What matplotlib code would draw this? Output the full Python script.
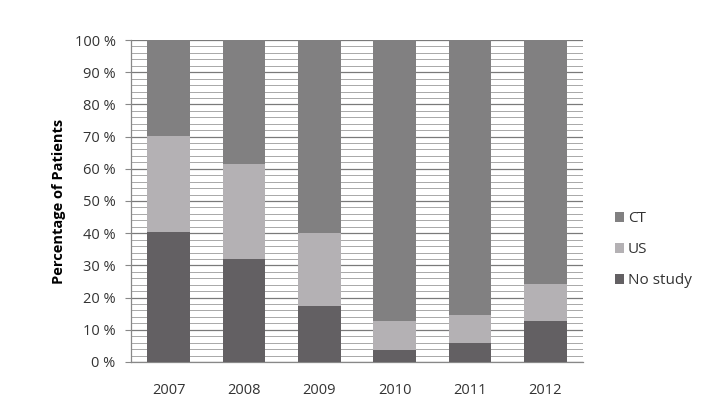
import matplotlib
matplotlib.use('Agg')
import matplotlib.pyplot as plt
import numpy as np

years = ['2007', '2008', '2009', '2010', '2011', '2012']
no_study = [40.5, 32.1, 17.3, 3.7, 6.0, 12.8]
us = [29.8, 29.5, 22.9, 9.1, 8.6, 11.4]
ct = [100 - a - b for a, b in zip(no_study, us)]

plt.rcParams['font.family'] = ['Open Sans', 'DejaVu Sans']

fig = plt.figure(figsize=(7.14, 4.12), dpi=100)
ax = fig.add_axes([0.1835, 0.1214, 0.633, 0.7815])

x = np.arange(len(years))
width = 0.57
c_no, c_us, c_ct = '#636063', '#b4b1b4', '#818081'

b1 = ax.bar(x, no_study, width, color=c_no, label='No study', zorder=3)
b2 = ax.bar(x, us, width, bottom=no_study, color=c_us, label='US', zorder=3)
bottom_ct = [a + b for a, b in zip(no_study, us)]
b3 = ax.bar(x, ct, width, bottom=bottom_ct, color=c_ct, label='CT', zorder=3)

ax.set_xlim(-0.5, len(years) - 0.5)
ax.set_ylim(0, 100)
ax.set_yticks(np.arange(0, 101, 10))
ax.set_yticklabels([f'{v} %' for v in range(0, 101, 10)])
ax.set_yticks(np.arange(0, 101, 2), minor=True)
ax.grid(True, which='major', axis='y', color='#7a7a7a', linewidth=0.9, zorder=0)
ax.grid(True, which='minor', axis='y', color='#a8a8a8', linewidth=0.7, zorder=0)

ax.set_xticks(x)
ax.set_xticklabels(years)
ax.tick_params(axis='x', length=0, pad=15, labelsize=10.5, colors='#333333')
ax.tick_params(axis='y', which='major', length=4, width=0.8, color='#888888',
               pad=7, labelsize=10.5, labelcolor='#333333')
ax.tick_params(axis='y', which='minor', length=0)

for side in ['top', 'right']:
    ax.spines[side].set_visible(False)
for side in ['left', 'bottom']:
    ax.spines[side].set_color('#888888')
    ax.spines[side].set_linewidth(0.9)

ax.set_ylabel('Percentage of Patients', fontsize=10.5, fontweight='bold', labelpad=6)

ax.legend(handles=[b3, b2, b1], loc='center left', bbox_to_anchor=(1.04, 0.348),
          frameon=False, fontsize=11, labelspacing=1.05, handlelength=0.6,
          handleheight=0.6, handletextpad=0.25, labelcolor='#333333')

fig.savefig('out.png', dpi=100)
